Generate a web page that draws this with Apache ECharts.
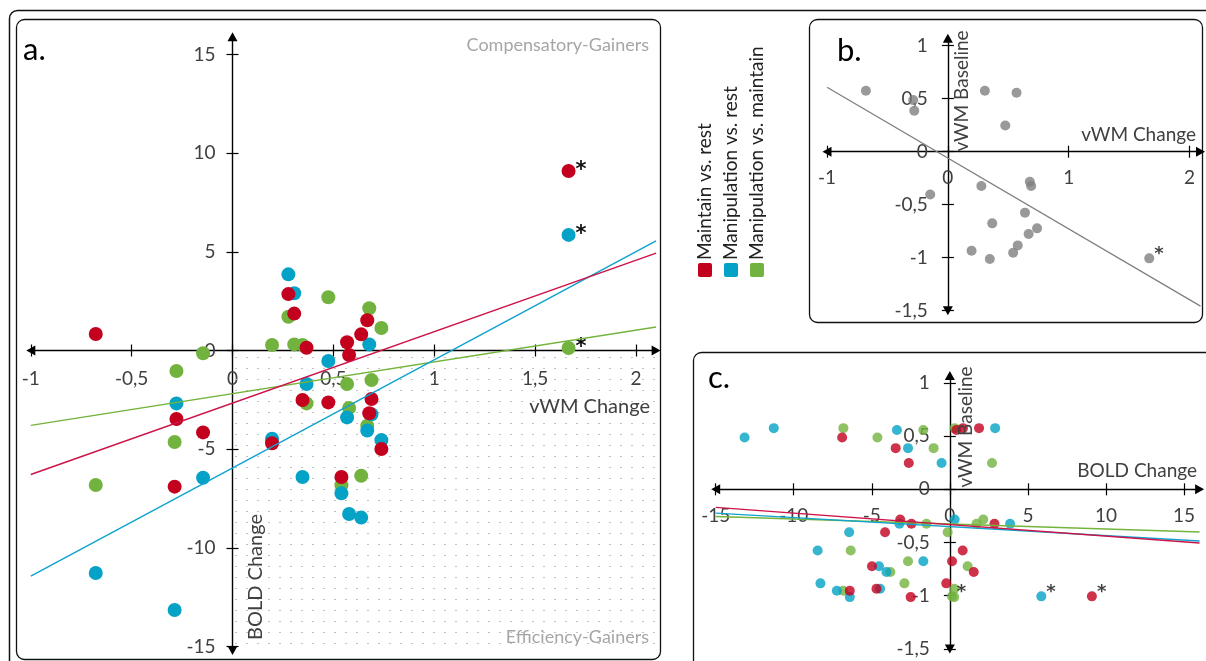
<!DOCTYPE html>
<html><head><meta charset="utf-8">
<script src="https://cdn.jsdelivr.net/npm/echarts@6/dist/echarts.min.js"></script>
<style>html,body{margin:0;padding:0;background:#fff}#c{width:1206px;height:661px}</style>
</head><body><div id="c"></div>
<script>
// ---------------- DATA ----------------
const seriesNames = ['Maintain vs. rest', 'Manipulation vs. rest', 'Manipulation vs. maintain'];
// one entry per subject
const vwmChange   = [-0.678, -0.287, -0.278, 0.306, 0.568, 0.475, 0.277, 0.678, 0.689, -0.146, 0.638, 0.367, 0.738, 0.668, 0.196, 0.578, 0.540, 0.347, 1.666];
const vwmBaseline = [0.575, 0.487, 0.387, 0.575, 0.557, 0.248, -0.324, -0.283, -0.324, -0.403, -0.575, -0.676, -0.723, -0.777, -0.934, -0.884, -0.953, -1.013, -1.006];
const boldMaintainRest  = [0.84, -6.90, -3.47, 1.87, 0.42, -2.63, 2.86, -3.18, -2.46, -4.15, 0.82, 0.14, -4.99, 1.53, -4.70, -0.23, -6.41, -2.51, 9.10];
const boldManipRest     = [-11.28, -13.15, -2.68, 2.90, -3.39, -0.53, 3.86, 0.31, -3.23, -6.45, -8.47, -1.70, -4.54, -4.06, -4.47, -8.29, -7.24, -6.41, 5.86];
const boldManipMaintain = [-6.82, -4.64, -1.04, 0.31, -1.70, 2.70, 1.71, 2.14, -1.50, -0.14, -6.35, -2.68, 1.14, -3.81, 0.28, -2.91, -6.83, 0.28, 0.13];
const starredSubjects = [18];
// tick labels
const xTicksA = [-1, -0.5, 0, 0.5, 1, 1.5, 2];
const yTicksA = [-15, -10, -5, 0, 5, 10, 15];
const xTicksB = [-1, 0, 1, 2];
const yTicksBC = [-1.5, -1, -0.5, 0, 0.5, 1];
const xTicksC = [-15, -10, -5, 0, 5, 10, 15];

// ---------------- STYLE / LAYOUT ----------------
const colors = ['#C3001E', '#04A2C6', '#72B33F'];
const lineColors = ['#CC1448', '#11A3CF', '#74B43C'];
const gray = '#808080';
const FONT = 'Lato, "Open Sans", sans-serif';
const STARFONT = '"DejaVu Sans", sans-serif';
const labelColor = '#404040';
const fmt = v => String(+(+v).toFixed(2)).replace('.', ',');

const grids = [
  { left: 30.8, top: 36.8, width: 625.3, height: 613.6 },
  { left: 827, top: 38.3, width: 373.5, height: 272.4 },
  { left: 715.7, top: 375.5, width: 483.9, height: 273.4 }
];
const rA = { x: [-1, 2.1], y: [-15.2, 15.9] };
const rB = { x: [-1, 2.09], y: [-1.5, 1.07] };
const rC = { x: [-15, 16], y: [-1.5, 1.07] };

function regress(xs, ys) {
  const n = xs.length;
  const mx = xs.reduce((a, b) => a + b, 0) / n, my = ys.reduce((a, b) => a + b, 0) / n;
  let sxy = 0, sxx = 0;
  for (let i = 0; i < n; i++) { sxy += (xs[i] - mx) * (ys[i] - my); sxx += (xs[i] - mx) ** 2; }
  const b = sxy / sxx; return { a: my - b * mx, b };
}
function trend(xs, ys, x0, x1) {
  const r = regress(xs, ys);
  return [[x0, r.a + r.b * x0], [x1, r.a + r.b * x1]];
}

// axes crossing at zero: positioned with offsets from the grid edges
function axes(gi, r, xt, yt, opt) {
  const g = grids[gi];
  const zeroY = g.top + g.height * (r.y[1] - 0) / (r.y[1] - r.y[0]);
  const zeroX = g.left + g.width * (0 - r.x[0]) / (r.x[1] - r.x[0]);
  const line = { color: '#000', width: 1.4 };
  const arrow = { onZero: false, symbol: ['triangle', 'triangle'], symbolSize: [10, 9], lineStyle: line };
  const tick = (vals) => ({ show: true, customValues: vals, length: 6, lineStyle: { color: '#000', width: 1.2 } });
  const lab = (vals, margin) => ({ customValues: vals, formatter: fmt, margin, fontSize: opt.fs, color: labelColor, fontFamily: FONT });
  const base = { gridIndex: gi, type: 'value', splitLine: { show: false } };
  const x = [
    Object.assign({}, base, { position: 'bottom', offset: -(g.top + g.height - zeroY), min: r.x[0], max: r.x[1], axisLine: arrow, axisTick: tick(xt), axisLabel: lab(xt, opt.xm) }),
    Object.assign({}, base, { position: 'top', offset: -(zeroY - g.top), min: r.x[0], max: r.x[1], axisLine: { show: false, onZero: false }, axisTick: tick(xt), axisLabel: { show: false } })
  ];
  const y = [
    Object.assign({}, base, { position: 'left', offset: -(zeroX - g.left), min: r.y[0], max: r.y[1], axisLine: arrow, axisTick: tick(yt), axisLabel: lab(yt, opt.ym) }),
    Object.assign({}, base, { position: 'right', offset: -(g.left + g.width - zeroX), min: r.y[0], max: r.y[1], axisLine: { show: false, onZero: false }, axisTick: tick(yt), axisLabel: { show: false } })
  ];
  return { x, y };
}

const aA = axes(0, rA, xTicksA, yTicksA, { fs: 19, xm: 19, ym: 17 });
const aB = axes(1, rB, xTicksB, yTicksBC, { fs: 19, xm: 17, ym: 20 });
const aC = axes(2, rC, xTicksC, yTicksBC, { fs: 19, xm: 17, ym: 20 });
const xAxis = [...aA.x, ...aB.x, ...aC.x];
const yAxis = [...aA.y, ...aB.y, ...aC.y];

const boldSets = [boldMaintainRest, boldManipRest, boldManipMaintain];

function pts(xs, ys, star) {
  return xs.map((x, i) => starredSubjects.includes(i)
    ? { value: [x, ys[i]], label: { show: true, formatter: '*', position: 'right', distance: star.d, offset: star.off, fontSize: star.fs, fontWeight: 'bold', color: '#111', fontFamily: STARFONT } }
    : [x, ys[i]]);
}

// dotted pattern for the efficiency quadrant
const pc = document.createElement('canvas'); pc.width = 11; pc.height = 11;
const pg = pc.getContext('2d'); pg.fillStyle = '#c2c2c2'; pg.fillRect(4, 5, 2, 1);

const series = [];
series.push({ type: 'scatter', xAxisIndex: 0, yAxisIndex: 0, data: [], silent: true, z: 1,
  markArea: { silent: true, itemStyle: { color: { image: pc, repeat: 'repeat' } },
    data: [[{ coord: [0, 0] }, { coord: [rA.x[1], rA.y[0]] }]] } });

const order = [2, 1, 0]; // green bottom, red on top
// panel a
order.forEach(k => series.push({ name: seriesNames[k], type: 'scatter', xAxisIndex: 0, yAxisIndex: 0, symbolSize: 14, z: 3,
  itemStyle: { color: colors[k], opacity: 1 }, data: pts(vwmChange, boldSets[k], { d: 0, off: [0, 0], fs: 21 }) }));
order.forEach(k => series.push({ type: 'line', xAxisIndex: 0, yAxisIndex: 0, symbol: 'none', z: 4, silent: true,
  lineStyle: { color: lineColors[k], width: 1.5 }, data: trend(vwmChange, boldSets[k], rA.x[0], rA.x[1]) }));
// panel b
series.push({ type: 'scatter', xAxisIndex: 2, yAxisIndex: 2, symbolSize: 10, z: 3, itemStyle: { color: gray },
  data: pts(vwmChange, vwmBaseline, { d: 0, off: [0, -4], fs: 18 }) });
series.push({ type: 'line', xAxisIndex: 2, yAxisIndex: 2, symbol: 'none', z: 4, silent: true,
  lineStyle: { color: gray, width: 1.3 }, data: trend(vwmChange, vwmBaseline, rB.x[0], rB.x[1]) });
// panel c
order.forEach(k => series.push({ name: seriesNames[k], type: 'scatter', xAxisIndex: 4, yAxisIndex: 4, symbolSize: 10, z: 3,
  itemStyle: { color: colors[k] }, data: pts(boldSets[k], vwmBaseline, { d: 0, off: [0, -4], fs: 18 }) }));
order.forEach(k => series.push({ type: 'line', xAxisIndex: 4, yAxisIndex: 4, symbol: 'none', z: 4, silent: true,
  lineStyle: { color: lineColors[k], width: 1.4 }, data: trend(boldSets[k], vwmBaseline, rC.x[0], rC.x[1]) }));

const T = (text, x, y, o = {}) => ({ type: 'text', x, y, rotation: o.rot || 0, z: 10, silent: true,
  style: { text, font: (o.w || 'normal') + ' ' + (o.fs || 19) + 'px ' + FONT, fill: o.c || labelColor, align: o.al || 'left', verticalAlign: 'middle' } });
const box = (x, y, w, h, lw) => ({ type: 'rect', z: 0, silent: true, shape: { x, y, width: w, height: h, r: 8 }, style: { fill: 'none', stroke: '#111', lineWidth: lw } });

const graphic = [
  box(9.5, 10.5, 1215, 680, 1.5),
  box(16.5, 19.5, 644, 640, 1.3),
  box(809.5, 19.5, 393, 303, 1.3),
  box(693.5, 352.5, 530, 330, 1.3),
  T('a.', 23, 50, { fs: 31, c: '#000' }),
  T('b.', 837, 51, { fs: 31, c: '#000' }),
  T('c.', 708, 378, { fs: 31, c: '#000' }),
  T('Compensatory-Gainers', 649, 45, { fs: 18, c: '#a6a6a6', al: 'right' }),
  T('Efficiency-Gainers', 649, 637, { fs: 18, c: '#a6a6a6', al: 'right' }),
  T('vWM Change', 650, 407, { fs: 20, al: 'right' }),
  T('BOLD Change', 256, 577, { fs: 20, al: 'center', rot: Math.PI / 2 }),
  T('vWM Change', 1196, 135, { fs: 19, al: 'right' }),
  T('vWM Baseline', 962, 91, { fs: 19, al: 'center', rot: Math.PI / 2 }),
  T('BOLD Change', 1197, 471, { fs: 19, al: 'right' }),
  T('vWM Baseline', 966, 427, { fs: 19, al: 'center', rot: Math.PI / 2 })
];
const legX = [705, 731, 757];
seriesNames.forEach((n, k) => {
  graphic.push({ type: 'rect', z: 10, silent: true, shape: { x: legX[k] - 7, y: 263, width: 14, height: 14, r: 2 }, style: { fill: colors[k] } });
  graphic.push(T(n, legX[k], 260, { fs: 19, rot: Math.PI / 2, c: '#222' }));
});

const chart = echarts.init(document.getElementById('c'), null, { renderer: 'canvas' });
chart.setOption({
  animation: false,
  backgroundColor: '#fff',
  grid: grids.map(g => Object.assign({ containLabel: false, outerBoundsMode: 'none' }, g)),
  xAxis, yAxis, series, graphic
});
</script></body></html>
